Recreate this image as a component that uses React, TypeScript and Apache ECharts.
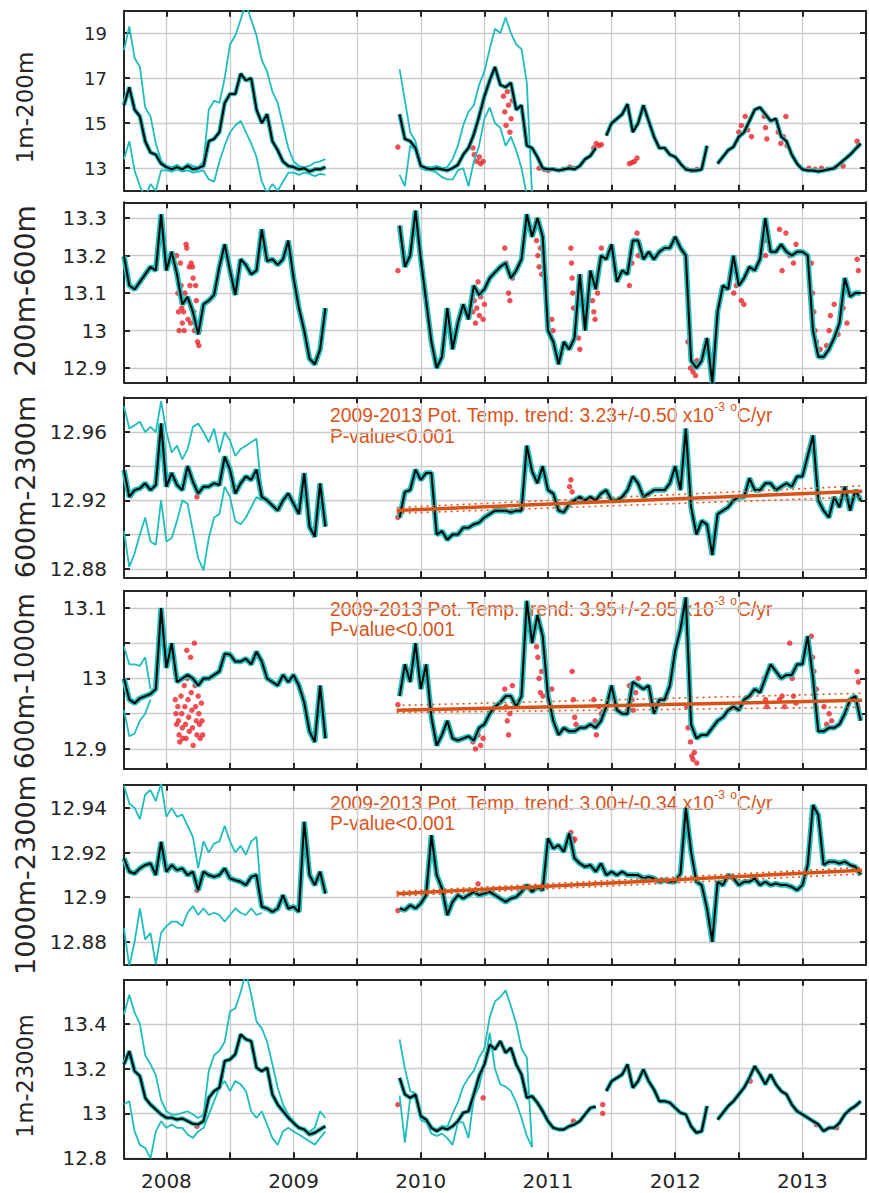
import React, { useEffect, useRef } from "react";
import * as echarts from "echarts";

// ---------- time base ----------
const T0_A = 2007 + 8 / 12; // first segment start (Sep 2007)
const T0_B = 2009 + 10 / 12; // second segment start (Nov 2009)
const STEP = 1 / 24; // half-month sampling
const GAP_T = 2009.55;

const X_MIN = 2007 + 8 / 12;
const X_MAX = 2013.5;
const X_TICKS = [2008, 2008.5, 2009, 2009.5, 2010, 2010.5, 2011, 2011.5, 2012, 2012.5, 2013, 2013.5];
const X_LABELS = [2008, 2009, 2010, 2011, 2012, 2013];

const PANEL_NAMES = ["1m-200m", "200m-600m", "600m-2300m", "600m-1000m", "1000m-2300m", "1m-2300m"];
const Y_MIN = [12, 12.862, 12.875, 12.8716, 12.8699, 12.8];
const Y_MAX = [20, 13.342, 12.9803, 13.1245, 12.9504, 13.597];
const Y_TICKS = [
  [13, 15, 17, 19],
  [12.9, 13, 13.1, 13.2, 13.3],
  [12.88, 12.9, 12.92, 12.94, 12.96],
  [12.9, 12.95, 13, 13.05, 13.1],
  [12.88, 12.9, 12.92, 12.94],
  [12.8, 13, 13.2, 13.4],
];
const Y_LABELS = [
  [13, 15, 17, 19],
  [12.9, 13, 13.1, 13.2, 13.3],
  [12.88, 12.92, 12.96],
  [12.9, 13, 13.1],
  [12.88, 12.9, 12.92, 12.94],
  [12.8, 13, 13.2, 13.4],
];

// ---------- panel 1: 1m-200m ----------
const P1_BLACK_A = [15.8, 16.6, 15.6, 15.3, 14.2, 13.7, 13.6, 13.2, 13.05, 12.95, 13.05, 12.95, 13.1, 12.95, 13.0, 13.1, 14.2, 14.3, 14.6, 15.9, 16.3, 16.3, 17.2, 16.9, 17.0, 15.6, 15.0, 15.4, 14.2, 13.8, 13.3, 13.1, 13.05, 12.95, 13.0, 12.85, 12.95, 12.95, 13.05];
const P1_UP_A = [18.25, 19.3, 17.9, 17.5, 15.7, 15.3, 14.1, 13.35, 13.1, 13.05, 13.15, 13.0, 13.2, 13.1, 13.05, 13.3, 15.6, 16.0, 15.9, 17.0, 18.5, 18.9, 19.6, 20.3, 19.6, 18.9, 17.8, 17.3, 16.4, 15.9, 14.9, 13.9, 13.3, 13.1, 13.05, 13.1, 13.25, 13.3, 13.4];
const P1_LO_A = [13.4, 14.2, 12.9, 12.2, 11.7, 12.3, 12.0, 12.9, 12.9, 12.85, 12.95, 12.85, 12.9, 12.8, 12.85, 12.9, 12.5, 12.4, 13.3, 14.0, 14.6, 14.9, 15.1, 14.6, 14.1, 13.5, 12.4, 11.9, 12.3, 12.0, 12.4, 12.8, 12.8, 12.7, 12.8, 12.75, 12.65, 12.75, 12.7];
const P1_BLACK_B = [15.4, 14.3, 14.2, 13.9, 13.1, 13.0, 12.95, 13.0, 12.95, 12.9, 13.0, 13.15, 13.6, 13.9, 14.5, 15.3, 16.2, 16.9, 17.5, 16.7, 16.6, 16.8, 15.6, 15.8, 14.0, 13.9, 13.5, 13.0, 12.95, 12.95, 12.9, 12.95, 13.0, 12.95, 13.1, 13.4, 13.55, 13.9, null, 14.45, 15.0, 15.2, 15.4, 15.85, 14.6, 15.0, 15.8, 15.1, 14.4, 13.9, 13.9, 13.6, 13.5, 13.2, 12.95, 12.9, 12.9, 12.95, 14.0, null, 13.2, 13.5, 13.8, 13.95, 14.4, 14.6, 15.1, 15.6, 15.7, 15.4, 15.1, 15.2, 14.4, 14.2, 13.6, 13.2, 12.95, 12.9, 12.9, 12.85, 12.9, 12.95, 13.0, 13.2, 13.4, 13.6, 13.85, 14.1];
const P1_UP_B = [17.4, 16.0, 14.6, 14.2, 13.2, 13.05, 13.05, 13.1, 13.0, 13.05, 13.4, 14.0, 14.9, 15.5, 15.8, 16.7, 17.3, 18.3, 19.2, 19.0, 19.7, 19.0, 18.5, 18.3, 16.8, 11.8];
const P1_LO_B = [12.7, 12.2, 14.0, 13.8, 13.0, 12.9, 12.9, 12.8, 12.6, 12.5, 12.5, 12.9, 13.0, 12.2, 13.3, 14.0, 15.2, 15.7, 15.0, 14.8, 14.0, 14.4, 13.8, 13.0, 11.8];
const P1_RED = [[2009.82, 13.94], [2010.41, 13.9], [2010.42, 13.6], [2010.44, 13.3], [2010.46, 13.5], [2010.47, 13.2], [2010.49, 13.3], [2010.65, 16.2], [2010.66, 15.5], [2010.67, 14.9], [2010.68, 16.4], [2010.69, 15.8], [2010.7, 14.6], [2010.71, 15.2], [2010.72, 16.0], [2010.93, 13.0], [2010.97, 12.95], [2011.0, 12.9], [2011.12, 12.95], [2011.17, 13.05], [2011.2, 13.0], [2011.36, 13.9], [2011.38, 14.1], [2011.4, 14.0], [2011.42, 14.05], [2011.64, 13.2], [2011.66, 13.25], [2011.68, 13.3], [2011.7, 13.45], [2012.09, 12.95], [2012.13, 12.9], [2012.17, 12.95], [2012.5, 14.6], [2012.52, 14.9], [2012.55, 15.3], [2012.57, 14.7], [2012.6, 14.4], [2012.7, 15.3], [2012.71, 14.8], [2012.72, 14.3], [2012.81, 14.6], [2012.83, 14.1], [2012.85, 14.4], [2012.87, 15.3], [2012.88, 14.0], [2013.05, 13.0], [2013.1, 12.95], [2013.15, 13.0], [2013.2, 12.95], [2013.26, 13.05], [2013.32, 13.1], [2013.43, 14.2], [2013.44, 14.0]];

// ---------- panel 2: 200m-600m ----------
const P2_BLACK_A = [13.198, 13.12, 13.11, 13.13, 13.15, 13.17, 13.16, 13.31, 13.16, 13.21, 13.15, 13.07, 13.09, 13.05, 12.99, 13.07, 13.08, 13.095, 13.17, 13.23, 13.16, 13.095, 13.19, 13.175, 13.15, 13.16, 13.27, 13.185, 13.19, 13.175, 13.19, 13.24, 13.14, 13.06, 13.0, 12.925, 12.91, 12.95, 13.06];
const P2_BLACK_B = [13.28, 13.17, 13.2, 13.32, 13.19, 13.08, 12.97, 12.9, 12.93, 13.06, 12.95, 13.02, 13.07, 13.03, 13.12, 13.095, 13.11, 13.14, 13.155, 13.17, 13.18, 13.14, 13.16, 13.19, 13.31, 13.25, 13.3, 13.25, 13.0, 12.97, 12.91, 12.97, 12.95, 12.98, 13.15, 13.0, 13.16, 13.11, 13.2, 13.19, 13.23, 13.13, 13.16, 13.15, 13.24, 13.24, 13.19, 13.21, 13.19, 13.21, 13.22, 13.22, 13.25, 13.22, 13.2, 12.92, 12.9, 12.92, 12.98, 12.86, 13.05, 13.12, 13.11, 13.2, 13.12, 13.14, 13.17, 13.16, 13.19, 13.3, 13.21, 13.21, 13.23, 13.21, 13.2, 13.21, 13.21, 13.2, 13.0, 12.93, 12.93, 12.95, 12.98, 13.02, 13.14, 13.09, 13.1, 13.1];
const P2_RED = [[2008.08, 13.2], [2008.085, 13.15], [2008.09, 13.1], [2008.095, 13.05], [2008.1, 13.0], [2008.11, 13.18], [2008.115, 13.12], [2008.12, 13.06], [2008.125, 13.02], [2008.135, 13.05], [2008.14, 13.0], [2008.145, 13.1], [2008.155, 13.23], [2008.16, 13.22], [2008.165, 13.08], [2008.17, 13.03], [2008.18, 13.17], [2008.185, 13.12], [2008.19, 13.02], [2008.195, 13.18], [2008.205, 13.17], [2008.21, 13.14], [2008.215, 13.05], [2008.22, 13.0], [2008.23, 13.12], [2008.235, 13.08], [2008.24, 13.02], [2008.245, 12.97], [2008.255, 12.96], [2008.26, 13.0], [2009.82, 13.16],
  [2010.41, 13.05], [2010.42, 13.08], [2010.43, 13.02], [2010.44, 13.06], [2010.45, 13.13], [2010.46, 13.04], [2010.47, 13.09], [2010.49, 13.03], [2010.5, 13.07], [2010.66, 13.22], [2010.67, 13.18], [2010.69, 13.1], [2010.7, 13.08], [2010.72, 13.14], [2010.91, 13.24], [2010.92, 13.2], [2010.93, 13.17], [2010.94, 13.22], [2010.95, 13.15], [2010.98, 13.14], [2011.03, 13.03], [2011.04, 13.0], [2011.18, 13.22], [2011.185, 13.18], [2011.19, 13.14], [2011.195, 13.1], [2011.2, 13.06], [2011.24, 12.98], [2011.25, 12.95], [2011.35, 13.08], [2011.36, 13.05], [2011.37, 13.03], [2011.39, 13.1], [2011.42, 13.22], [2011.64, 13.12], [2011.66, 13.18], [2011.68, 13.24], [2011.7, 13.26], [2011.71, 13.2], [2012.1, 12.97], [2012.12, 12.9], [2012.14, 12.89], [2012.16, 12.88], [2012.17, 12.92], [2012.43, 13.14], [2012.46, 13.1], [2012.48, 13.12], [2012.52, 13.08], [2012.54, 13.07], [2012.7, 13.27], [2012.71, 13.2], [2012.72, 13.24], [2012.82, 13.27], [2012.84, 13.16], [2012.87, 13.26], [2012.9, 13.2], [2012.93, 13.18], [2012.95, 13.23], [2013.07, 13.18], [2013.08, 13.1], [2013.09, 13.05], [2013.1, 13.0], [2013.11, 12.97], [2013.14, 12.95], [2013.16, 12.93], [2013.19, 12.96], [2013.21, 13.0], [2013.22, 13.04], [2013.25, 13.07], [2013.28, 12.99], [2013.32, 13.06], [2013.35, 13.02], [2013.43, 13.19], [2013.44, 13.16]];

// ---------- panel 3: 600m-2300m ----------
const P3_BLACK_A = [12.9378, 12.922, 12.926, 12.927, 12.93, 12.926, 12.929, 12.965, 12.928, 12.936, 12.929, 12.926, 12.94, 12.931, 12.924, 12.928, 12.928, 12.93, 12.929, 12.9456, 12.938, 12.924, 12.93, 12.934, 12.932, 12.938, 12.922, 12.92, 12.917, 12.914, 12.92, 12.924, 12.918, 12.912, 12.936, 12.9046, 12.8987, 12.93, 12.9046];
const P3_UP_A = [12.975, 12.962, 12.964, 12.966, 12.96, 12.963, 12.96, 12.978, 12.96, 12.948, 12.952, 12.944, 12.95, 12.963, 12.965, 12.96, 12.954, 12.962, 12.948, 12.96, 12.955, 12.946, 12.95, 12.952, 12.954, 12.956, 12.924];
const P3_LO_A = [12.902, 12.881, 12.889, 12.9, 12.91, 12.896, 12.894, 12.92, 12.896, 12.898, 12.908, 12.92, 12.918, 12.902, 12.886, 12.879, 12.898, 12.91, 12.912, 12.928, 12.922, 12.908, 12.906, 12.91, 12.916, 12.922, 12.92];
const P3_BLACK_B = [12.91, 12.925, 12.926, 12.938, 12.932, 12.936, 12.936, 12.9, 12.902, 12.897, 12.9, 12.9, 12.904, 12.904, 12.906, 12.907, 12.91, 12.912, 12.914, 12.914, 12.914, 12.913, 12.914, 12.914, 12.952, 12.937, 12.93, 12.94, 12.926, 12.924, 12.914, 12.913, 12.918, 12.92, 12.922, 12.92, 12.922, 12.92, 12.924, 12.926, 12.92, 12.92, 12.922, 12.926, 12.934, 12.93, 12.922, 12.924, 12.926, 12.926, 12.926, 12.93, 12.94, 12.926, 12.962, 12.916, 12.9, 12.908, 12.906, 12.888, 12.912, 12.914, 12.916, 12.92, 12.922, 12.922, 12.933, 12.926, 12.926, 12.93, 12.93, 12.926, 12.928, 12.93, 12.928, 12.934, 12.934, 12.946, 12.958, 12.92, 12.914, 12.91, 12.922, 12.916, 12.928, 12.914, 12.926, 12.92];
const P3_RED = [[2008.24, 12.922], [2009.82, 12.91], [2011.17, 12.928], [2011.18, 12.932], [2011.19, 12.925]];
const P3_TREND = [12.9141, 12.9254];
const P3_TREND_HI = [12.9158, 12.9285];
const P3_TREND_LO = [12.9124, 12.922];

// ---------- panel 4: 600m-1000m ----------
const P4_BLACK_A = [13.0, 12.97, 12.965, 12.972, 12.975, 12.978, 12.985, 13.1, 13.015, 13.05, 12.995, 13.0, 13.005, 13.0, 12.99, 13.0, 13.0, 13.005, 13.01, 13.035, 13.034, 13.024, 13.024, 13.028, 13.02, 13.038, 13.024, 13.0, 12.995, 12.99, 13.005, 12.995, 13.005, 12.99, 12.966, 12.925, 12.91, 12.99, 12.915];
const P4_UP_A = [13.045, 13.02, 13.02, 13.018, 13.03, 12.985];
const P4_LO_A = [12.955, 12.918, 12.922, 12.94, 12.95, 12.97];
const P4_BLACK_B = [12.975, 13.02, 12.995, 13.05, 12.985, 13.02, 12.945, 12.905, 12.92, 12.94, 12.915, 12.912, 12.915, 12.918, 12.912, 12.93, 12.935, 12.95, 12.96, 12.966, 12.975, 12.975, 12.96, 12.975, 13.11, 13.05, 13.09, 13.06, 12.975, 12.94, 12.92, 12.93, 12.925, 12.925, 12.93, 12.93, 12.935, 12.93, 12.94, 12.96, 12.99, 12.955, 12.95, 12.95, 12.995, 12.99, 12.985, 12.99, 12.95, 12.97, 12.97, 12.99, 13.04, 13.07, 13.115, 12.935, 12.915, 12.92, 12.92, 12.93, 12.94, 12.945, 12.955, 12.96, 12.955, 12.97, 12.975, 12.985, 12.98, 13.0, 13.02, 13.01, 13.0, 13.005, 13.005, 13.02, 13.02, 13.06, 13.0, 12.925, 12.925, 12.93, 12.93, 12.935, 12.95, 12.97, 12.975, 12.94];
const P4_RED = [[2008.07, 12.97], [2008.075, 12.95], [2008.08, 12.935], [2008.09, 12.96], [2008.095, 12.94], [2008.1, 12.92], [2008.105, 12.91], [2008.115, 12.975], [2008.12, 12.95], [2008.125, 12.93], [2008.13, 12.915], [2008.14, 12.99], [2008.145, 12.96], [2008.15, 12.935], [2008.155, 12.915], [2008.16, 13.04], [2008.165, 13.0], [2008.17, 12.97], [2008.175, 12.945], [2008.18, 12.925], [2008.19, 13.03], [2008.195, 12.98], [2008.2, 12.955], [2008.205, 12.93], [2008.21, 12.905], [2008.22, 13.05], [2008.225, 12.99], [2008.23, 12.96], [2008.235, 12.94], [2008.24, 12.92], [2008.25, 12.975], [2008.255, 12.95], [2008.26, 12.935], [2008.265, 12.915], [2008.275, 12.965], [2008.28, 12.94], [2008.285, 12.92], [2009.82, 12.963],
  [2010.41, 12.91], [2010.43, 12.9], [2010.45, 12.92], [2010.47, 12.905], [2010.49, 12.915], [2010.66, 12.985], [2010.67, 12.96], [2010.68, 12.94], [2010.69, 12.92], [2010.7, 12.95], [2010.72, 12.99], [2010.91, 13.045], [2010.92, 13.03], [2010.93, 13.0], [2010.94, 12.98], [2010.95, 13.01], [2010.96, 12.975], [2010.97, 13.04], [2011.02, 12.96], [2011.03, 12.985], [2011.19, 13.01], [2011.2, 12.97], [2011.21, 12.945], [2011.22, 12.935], [2011.36, 12.97], [2011.37, 12.94], [2011.38, 12.92], [2011.4, 12.96], [2011.42, 12.95], [2011.64, 12.99], [2011.66, 12.97], [2011.67, 12.955], [2011.69, 12.98], [2011.71, 13.0], [2012.09, 12.96], [2012.1, 12.93], [2012.12, 12.91], [2012.13, 12.89], [2012.14, 12.885], [2012.15, 12.895], [2012.17, 12.88], [2012.7, 13.0], [2012.71, 12.97], [2012.72, 12.96], [2012.82, 12.97], [2012.84, 12.975], [2012.86, 12.96], [2012.9, 13.05], [2012.92, 13.0], [2012.93, 12.975], [2012.95, 12.965], [2013.07, 13.06], [2013.08, 13.03], [2013.09, 13.01], [2013.11, 12.985], [2013.17, 12.96], [2013.19, 12.935], [2013.21, 12.95], [2013.23, 12.94], [2013.43, 13.01], [2013.44, 12.995]];
const P4_TREND = [12.955, 12.969];
const P4_TREND_HI = [12.9617, 12.979];
const P4_TREND_LO = [12.9517, 12.9594];

// ---------- panel 5: 1000m-2300m ----------
const P5_BLACK_A = [12.9174, 12.9114, 12.9106, 12.9129, 12.9144, 12.9151, 12.9099, 12.9248, 12.9114, 12.9144, 12.9121, 12.9129, 12.9099, 12.9114, 12.9031, 12.9114, 12.9099, 12.9091, 12.9099, 12.9129, 12.9084, 12.9076, 12.9069, 12.9054, 12.9091, 12.9099, 12.8957, 12.8949, 12.8934, 12.8949, 12.9009, 12.8949, 12.8957, 12.8934, 12.9338, 12.9099, 12.9054, 12.9114, 12.9016];
const P5_UP_A = [12.95, 12.942, 12.94, 12.935, 12.946, 12.948, 12.943, 12.951, 12.936, 12.94, 12.936, 12.937, 12.932, 12.927, 12.913, 12.925, 12.92, 12.924, 12.925, 12.932, 12.925, 12.92, 12.923, 12.919, 12.925, 12.927, 12.898];
const P5_LO_A = [12.886, 12.869, 12.88, 12.895, 12.881, 12.884, 12.87, 12.884, 12.887, 12.889, 12.889, 12.887, 12.893, 12.896, 12.892, 12.895, 12.892, 12.893, 12.892, 12.889, 12.892, 12.895, 12.893, 12.892, 12.895, 12.892, 12.893];
const P5_BLACK_B = [12.8949, 12.8942, 12.8964, 12.8949, 12.8972, 12.9009, 12.9278, 12.9099, 12.9039, 12.8919, 12.8979, 12.9009, 12.8994, 12.9009, 12.9024, 12.9009, 12.9016, 12.9024, 12.9009, 12.8994, 12.8979, 12.8994, 12.9001, 12.9024, 12.9054, 12.9024, 12.9046, 12.9031, 12.9263, 12.9218, 12.9233, 12.9203, 12.9286, 12.9174, 12.9151, 12.9136, 12.9144, 12.9114, 12.9151, 12.9099, 12.9114, 12.9099, 12.9114, 12.9099, 12.9099, 12.9099, 12.9084, 12.9091, 12.9084, 12.9069, 12.9076, 12.9069, 12.9069, 12.9106, 12.94, 12.9203, 12.9069, 12.9054, 12.8949, 12.88, 12.9069, 12.9054, 12.9099, 12.9084, 12.9054, 12.9069, 12.9069, 12.9084, 12.9054, 12.9069, 12.9054, 12.9061, 12.9054, 12.9054, 12.9046, 12.9031, 12.9054, 12.9144, 12.9413, 12.9368, 12.9144, 12.9159, 12.9159, 12.9151, 12.9159, 12.9144, 12.9136, 12.9099];
const P5_RED = [[2008.24, 12.903], [2009.82, 12.894], [2010.45, 12.906], [2011.18, 12.929], [2011.19, 12.926], [2011.2, 12.925], [2011.21, 12.926], [2013.07, 12.935]];
const P5_TREND = [12.9015, 12.9121];
const P5_TREND_HI = [12.9025, 12.9133];
const P5_TREND_LO = [12.9005, 12.9104];

// ---------- panel 6: 1m-2300m ----------
const P6_BLACK_A = [13.219, 13.278, 13.189, 13.167, 13.07, 13.04, 13.018, 12.996, 12.981, 12.981, 12.973, 12.978, 12.966, 12.954, 12.951, 12.966, 13.07, 13.1, 13.115, 13.234, 13.241, 13.264, 13.353, 13.331, 13.323, 13.204, 13.189, 13.204, 13.085, 13.04, 13.01, 12.981, 12.958, 12.936, 12.929, 12.906, 12.914, 12.929, 12.943];
const P6_UP_A = [13.442, 13.53, 13.45, 13.4, 13.26, 13.22, 13.17, 13.06, 13.01, 12.995, 12.995, 13.003, 13.01, 12.995, 12.98, 12.995, 13.19, 13.26, 13.28, 13.32, 13.455, 13.47, 13.54, 13.63, 13.53, 13.41, 13.38, 13.32, 13.22, 13.115, 13.04, 12.995, 12.966, 12.936, 12.92, 12.92, 12.936, 13.01, 12.98];
const P6_LO_A = [13.04, 13.055, 12.92, 12.86, 12.846, 12.8, 12.92, 12.966, 12.936, 12.951, 12.936, 12.936, 12.906, 12.891, 12.92, 12.936, 12.995, 13.055, 13.115, 13.145, 13.1, 13.145, 13.13, 13.1, 13.01, 12.98, 13.01, 12.95, 12.89, 12.86, 12.92, 12.936, 12.92, 12.906, 12.891, 12.876, 12.861, 12.891, 12.92];
const P6_BLACK_B = [13.159, 13.085, 13.07, 13.085, 12.988, 12.973, 12.936, 12.921, 12.936, 12.929, 12.943, 12.966, 13.003, 13.01, 13.085, 13.167, 13.219, 13.308, 13.286, 13.323, 13.271, 13.293, 13.219, 13.174, 13.07, 13.077, 13.048, 13.01, 12.966, 12.936, 12.929, 12.929, 12.943, 12.951, 12.966, 12.996, 13.025, 13.03, null, 13.1, 13.144, 13.159, 13.174, 13.219, 13.115, 13.144, 13.197, 13.144, 13.107, 13.055, 13.055, 13.048, 13.025, 13.003, 12.996, 12.943, 12.914, 12.921, 13.033, null, 12.973, 13.003, 13.033, 13.055, 13.085, 13.115, 13.159, 13.211, 13.174, 13.13, 13.174, 13.13, 13.1, 13.085, 13.04, 13.01, 12.996, 12.981, 12.966, 12.951, 12.921, 12.936, 12.936, 12.958, 12.996, 13.018, 13.033, 13.055];
const P6_UP_B = [13.33, 13.2, 13.1, 13.09, 12.995, 12.98, 12.94, 12.93, 12.945, 12.94, 13.0, 13.05, 13.12, 13.16, 13.19, 13.25, 13.29, 13.43, 13.5, 13.52, 13.55, 13.48, 13.4, 13.29, 13.25, 12.85];
const P6_LO_B = [13.08, 12.87, 13.07, 13.07, 12.97, 12.96, 12.91, 12.9, 12.91, 12.89, 12.86, 12.96, 12.96, 12.89, 13.07, 13.12, 13.22, 13.36, 13.2, 13.13, 13.12, 13.1, 13.05, 12.98, 12.9, 12.85];
const P6_RED = [[2008.24, 12.943], [2009.82, 13.04], [2010.49, 13.07], [2011.2, 12.966], [2011.43, 13.04], [2011.43, 13.0], [2012.59, 13.144], [2013.11, 12.95], [2013.27, 12.936]];

// ---------- trend annotation ----------
const TREND_T = [2009.81, 2013.47];
const TREND_TEXT = ["3.23+/-0.50", "3.95+/-2.05", "3.00+/-0.34"];
const P_VALUE_TEXT = "P-value<0.001";

// ---------- styling / layout ----------
const AX = "#262626";
const GRIDC = "#cbcbcb";
const CYAN = "#1fbdbd";
const RED = "#e8262c";
const ORANGE = "#d95319";
const GRID_TOPS = [10.7, 202.3, 397.3, 590.7, 784.7, 979.7];
const GRID_HEIGHTS = [180, 180, 180, 178.3, 179.6, 178.6];
const NAME_Y = [107.5, 291, 487, 681, 875, 1076];
const NAME_SIZE = [23, 28, 27, 26, 27, 22.5];
const TICK_SIZE = [18, 20, 20, 20, 20, 20];

const toPts = (vals: (number | null)[], t0: number) => vals.map((v, i) => [t0 + i * STEP, v]);
const joinAB = (a: (number | null)[], b: (number | null)[]) =>
  b.length ? [...toPts(a, T0_A), [GAP_T, null], ...toPts(b, T0_B)] : toPts(a, T0_A);

const PANELS = [
  { black: [P1_BLACK_A, P1_BLACK_B], env: [[P1_UP_A, P1_UP_B], [P1_LO_A, P1_LO_B]], red: P1_RED, trend: null, halo: 4.5 },
  { black: [P2_BLACK_A, P2_BLACK_B], env: [], red: P2_RED, trend: null, halo: 5.5 },
  { black: [P3_BLACK_A, P3_BLACK_B], env: [[P3_UP_A, []], [P3_LO_A, []]], red: P3_RED, trend: [P3_TREND, P3_TREND_HI, P3_TREND_LO], halo: 5.5 },
  { black: [P4_BLACK_A, P4_BLACK_B], env: [[P4_UP_A, []], [P4_LO_A, []]], red: P4_RED, trend: [P4_TREND, P4_TREND_HI, P4_TREND_LO], halo: 5.5 },
  { black: [P5_BLACK_A, P5_BLACK_B], env: [[P5_UP_A, []], [P5_LO_A, []]], red: P5_RED, trend: [P5_TREND, P5_TREND_HI, P5_TREND_LO], halo: 5.5 },
  { black: [P6_BLACK_A, P6_BLACK_B], env: [[P6_UP_A, P6_UP_B], [P6_LO_A, P6_LO_B]], red: P6_RED, trend: null, halo: 4.5 },
];

function buildOption() {
  const grid: any[] = [];
  const xAxis: any[] = [];
  const yAxis: any[] = [];
  const series: any[] = [];
  const graphic: any[] = [];
  const fmt = (v: number) => String(v);

  PANELS.forEach((p, k) => {
    grid.push({ left: 124, width: 742, top: GRID_TOPS[k], height: GRID_HEIGHTS[k] });
    const axLine = { show: true, onZero: false, lineStyle: { color: AX, width: 2 } };
    const splitLine = { show: true, lineStyle: { color: GRIDC, width: 1.3 } };
    xAxis.push({
      type: "value", gridIndex: k, min: X_MIN, max: X_MAX, position: "bottom",
      axisLine: axLine,
      axisTick: { show: true, inside: true, length: 6, customValues: X_TICKS, lineStyle: { color: AX, width: 2 } },
      axisLabel: { show: k === 5, customValues: X_LABELS, formatter: fmt, fontSize: 20, fontFamily: "DejaVu Sans", color: AX, margin: 13 },
      splitLine,
    });
    xAxis.push({
      type: "value", gridIndex: k, min: X_MIN, max: X_MAX, position: "top",
      axisLine: axLine,
      axisTick: { show: true, inside: true, length: 6, customValues: X_TICKS, lineStyle: { color: AX, width: 2 } },
      axisLabel: { show: false },
      splitLine: { show: false },
    });
    yAxis.push({
      type: "value", gridIndex: k, min: Y_MIN[k], max: Y_MAX[k], position: "left",
      axisLine: axLine,
      axisTick: { show: true, inside: true, length: 6, customValues: Y_TICKS[k], lineStyle: { color: AX, width: 2 } },
      axisLabel: { show: true, customValues: Y_LABELS[k], formatter: fmt, fontSize: TICK_SIZE[k], fontFamily: "DejaVu Sans", color: AX, margin: 17 },
      splitLine,
    });
    yAxis.push({
      type: "value", gridIndex: k, min: Y_MIN[k], max: Y_MAX[k], position: "right",
      axisLine: axLine,
      axisTick: { show: true, inside: true, length: 6, customValues: Y_TICKS[k], lineStyle: { color: AX, width: 2 } },
      axisLabel: { show: false },
      splitLine: { show: false },
    });

    const base = { type: "line", xAxisIndex: 2 * k, yAxisIndex: 2 * k, showSymbol: false, symbol: "none", silent: true, connectNulls: false, animation: false };
    p.env.forEach((e: any) => {
      series.push({ ...base, data: joinAB(e[0], e[1]), lineStyle: { color: CYAN, width: 1.8 } });
    });
    const blackData = joinAB(p.black[0], p.black[1]);
    series.push({ ...base, data: blackData, lineStyle: { color: CYAN, width: p.halo } });
    series.push({ type: "scatter", xAxisIndex: 2 * k, yAxisIndex: 2 * k, data: p.red, symbolSize: 5.5, itemStyle: { color: RED }, silent: true, animation: false });
    series.push({ ...base, data: blackData, lineStyle: { color: "#000000", width: 2 } });
    if (p.trend) {
      const [mid, hi, lo] = p.trend as number[][];
      series.push({ ...base, data: TREND_T.map((t, i) => [t, hi[i]]), lineStyle: { color: ORANGE, width: 1.6, type: [2, 4] } });
      series.push({ ...base, data: TREND_T.map((t, i) => [t, lo[i]]), lineStyle: { color: ORANGE, width: 1.6, type: [2, 4] } });
      series.push({ ...base, data: TREND_T.map((t, i) => [t, mid[i]]), lineStyle: { color: ORANGE, width: 3.5 } });
    }

    graphic.push({
      type: "text", x: 25, y: NAME_Y[k], rotation: Math.PI / 2,
      style: { text: PANEL_NAMES[k], fontSize: NAME_SIZE[k], fontFamily: "DejaVu Sans", fill: AX, align: "center", verticalAlign: "middle" },
    });
  });

  [2, 3, 4].forEach((k, n) => {
    const y1 = GRID_TOPS[k] + 16;
    graphic.push({
      type: "text", x: 330, y: y1,
      style: {
        text: `{a|2009-2013 Pot. Temp. trend: ${TREND_TEXT[n]} x10}{s|-3}{a| }{s|o}{a|C/yr}`,
        rich: {
          a: { fontSize: 19.3, fontFamily: "Liberation Sans", fill: ORANGE, lineHeight: 24, verticalAlign: "bottom" },
          s: { fontSize: 12, fontFamily: "Liberation Sans", fill: ORANGE, lineHeight: 14, verticalAlign: "top" },
        },
        align: "left", verticalAlign: "middle",
      },
    });
    graphic.push({
      type: "text", x: 330, y: y1 + 23,
      style: { text: P_VALUE_TEXT, fontSize: 19.3, fontFamily: "Liberation Sans", fill: ORANGE, align: "left", verticalAlign: "middle" },
    });
  });

  return { animation: false, backgroundColor: "#ffffff", grid, xAxis, yAxis, series, graphic };
}

export default function App() {
  const ref = useRef<HTMLDivElement>(null);
  useEffect(() => {
    document.body.style.margin = "0";
    if (!ref.current) return;
    const chart = echarts.init(ref.current, undefined, { renderer: "svg" });
    chart.setOption(buildOption() as any);
    return () => chart.dispose();
  }, []);
  return <div ref={ref} style={{ width: 869, height: 1193 }} />;
}
